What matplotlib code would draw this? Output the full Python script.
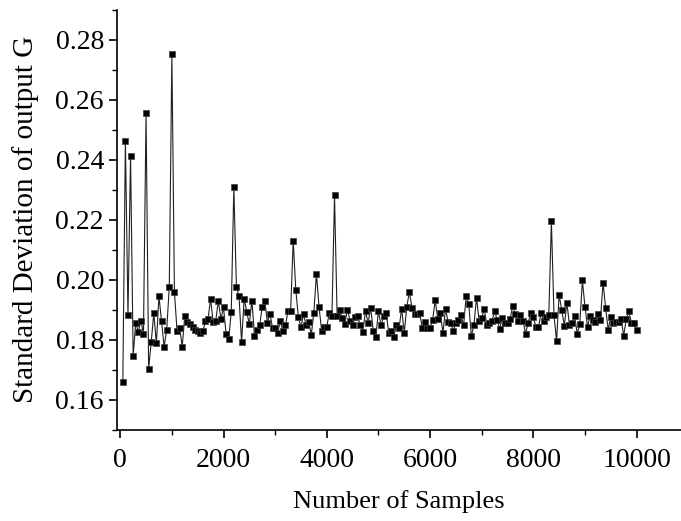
import numpy as np
import matplotlib.pyplot as plt
from matplotlib.ticker import MultipleLocator

plt.rcParams['font.family'] = ['Liberation Serif', 'DejaVu Serif']

# number of samples: 50, 100, ..., 10000
samples = np.arange(50, 10001, 50)

# standard deviation of output G
std_g = [
    0.1658, 0.2464, 0.1883, 0.2414, 0.1746, 0.1856, 0.1827, 0.1863, 0.1821, 0.2556,
    0.1704, 0.1793, 0.1888, 0.1788, 0.1946, 0.1863, 0.1777, 0.1833, 0.1977, 0.2752,
    0.1958, 0.1830, 0.1841, 0.1777, 0.1880, 0.1861, 0.1853, 0.1844, 0.1833, 0.1831,
    0.1822, 0.1828, 0.1863, 0.1870, 0.1936, 0.1859, 0.1864, 0.1930, 0.1869, 0.1908,
    0.1821, 0.1802, 0.1893, 0.2310, 0.1977, 0.1946, 0.1792, 0.1937, 0.1893, 0.1852,
    0.1931, 0.1814, 0.1834, 0.1848, 0.1910, 0.1929, 0.1857, 0.1887, 0.1839, 0.1839,
    0.1823, 0.1864, 0.1828, 0.1848, 0.1897, 0.1897, 0.2130, 0.1967, 0.1876, 0.1842,
    0.1886, 0.1848, 0.1861, 0.1817, 0.1891, 0.2021, 0.1910, 0.1831, 0.1844, 0.1844,
    0.1891, 0.1878, 0.2283, 0.1881, 0.1899, 0.1872, 0.1853, 0.1901, 0.1864, 0.1848,
    0.1876, 0.1878, 0.1848, 0.1827, 0.1896, 0.1856, 0.1907, 0.1830, 0.1810, 0.1896,
    0.1848, 0.1878, 0.1888, 0.1824, 0.1831, 0.1811, 0.1851, 0.1839, 0.1904, 0.1823,
    0.1911, 0.1960, 0.1907, 0.1886, 0.1886, 0.1888, 0.1841, 0.1859, 0.1839, 0.1841,
    0.1866, 0.1932, 0.1870, 0.1888, 0.1823, 0.1903, 0.1860, 0.1855, 0.1830, 0.1857,
    0.1867, 0.1882, 0.1848, 0.1946, 0.1918, 0.1812, 0.1850, 0.1941, 0.1864, 0.1874,
    0.1902, 0.1849, 0.1855, 0.1862, 0.1897, 0.1866, 0.1836, 0.1874, 0.1856, 0.1855,
    0.1869, 0.1913, 0.1887, 0.1864, 0.1882, 0.1864, 0.1821, 0.1857, 0.1888, 0.1876,
    0.1843, 0.1842, 0.1890, 0.1864, 0.1876, 0.1884, 0.2196, 0.1884, 0.1796, 0.1950,
    0.1900, 0.1847, 0.1924, 0.1848, 0.1856, 0.1880, 0.1821, 0.1853, 0.1998, 0.1911,
    0.1843, 0.1881, 0.1867, 0.1860, 0.1886, 0.1867, 0.1991, 0.1906, 0.1834, 0.1877,
    0.1857, 0.1858, 0.1860, 0.1870, 0.1814, 0.1868, 0.1896, 0.1856, 0.1856, 0.1832,
]

fig = plt.figure(figsize=(6.81, 5.21), dpi=100)
ax = fig.add_axes([0.172, 0.175, 0.828, 0.806])

ax.plot(samples, std_g, color='#202020', linewidth=0.8, marker='s',
        markersize=4.4, markerfacecolor='black', markeredgecolor='#404040',
        markeredgewidth=0.5)

ax.set_xlim(-60, 10860)
ax.set_ylim(0.15, 0.29)
ax.xaxis.set_major_locator(MultipleLocator(2000))
ax.xaxis.set_minor_locator(MultipleLocator(1000))
ax.yaxis.set_major_locator(MultipleLocator(0.02))
ax.yaxis.set_minor_locator(MultipleLocator(0.01))
ax.yaxis.set_major_formatter(plt.FuncFormatter(lambda v, p: f'{v:.2f}'))

for s in ['top', 'right']:
    ax.spines[s].set_visible(False)
for s in ['left', 'bottom']:
    ax.spines[s].set_linewidth(1.2)

ax.tick_params(which='major', direction='out', length=6, width=1.2, labelsize=20)
ax.tick_params(axis='x', which='major', pad=7)
ax.tick_params(which='minor', direction='out', length=3.5, width=1.0)

ax.set_xlabel('Number of Samples', fontsize=19, labelpad=12)
ax.set_ylabel('Standard Deviation of output G', fontsize=21, labelpad=12)

fig.savefig('out.png', dpi=100)
